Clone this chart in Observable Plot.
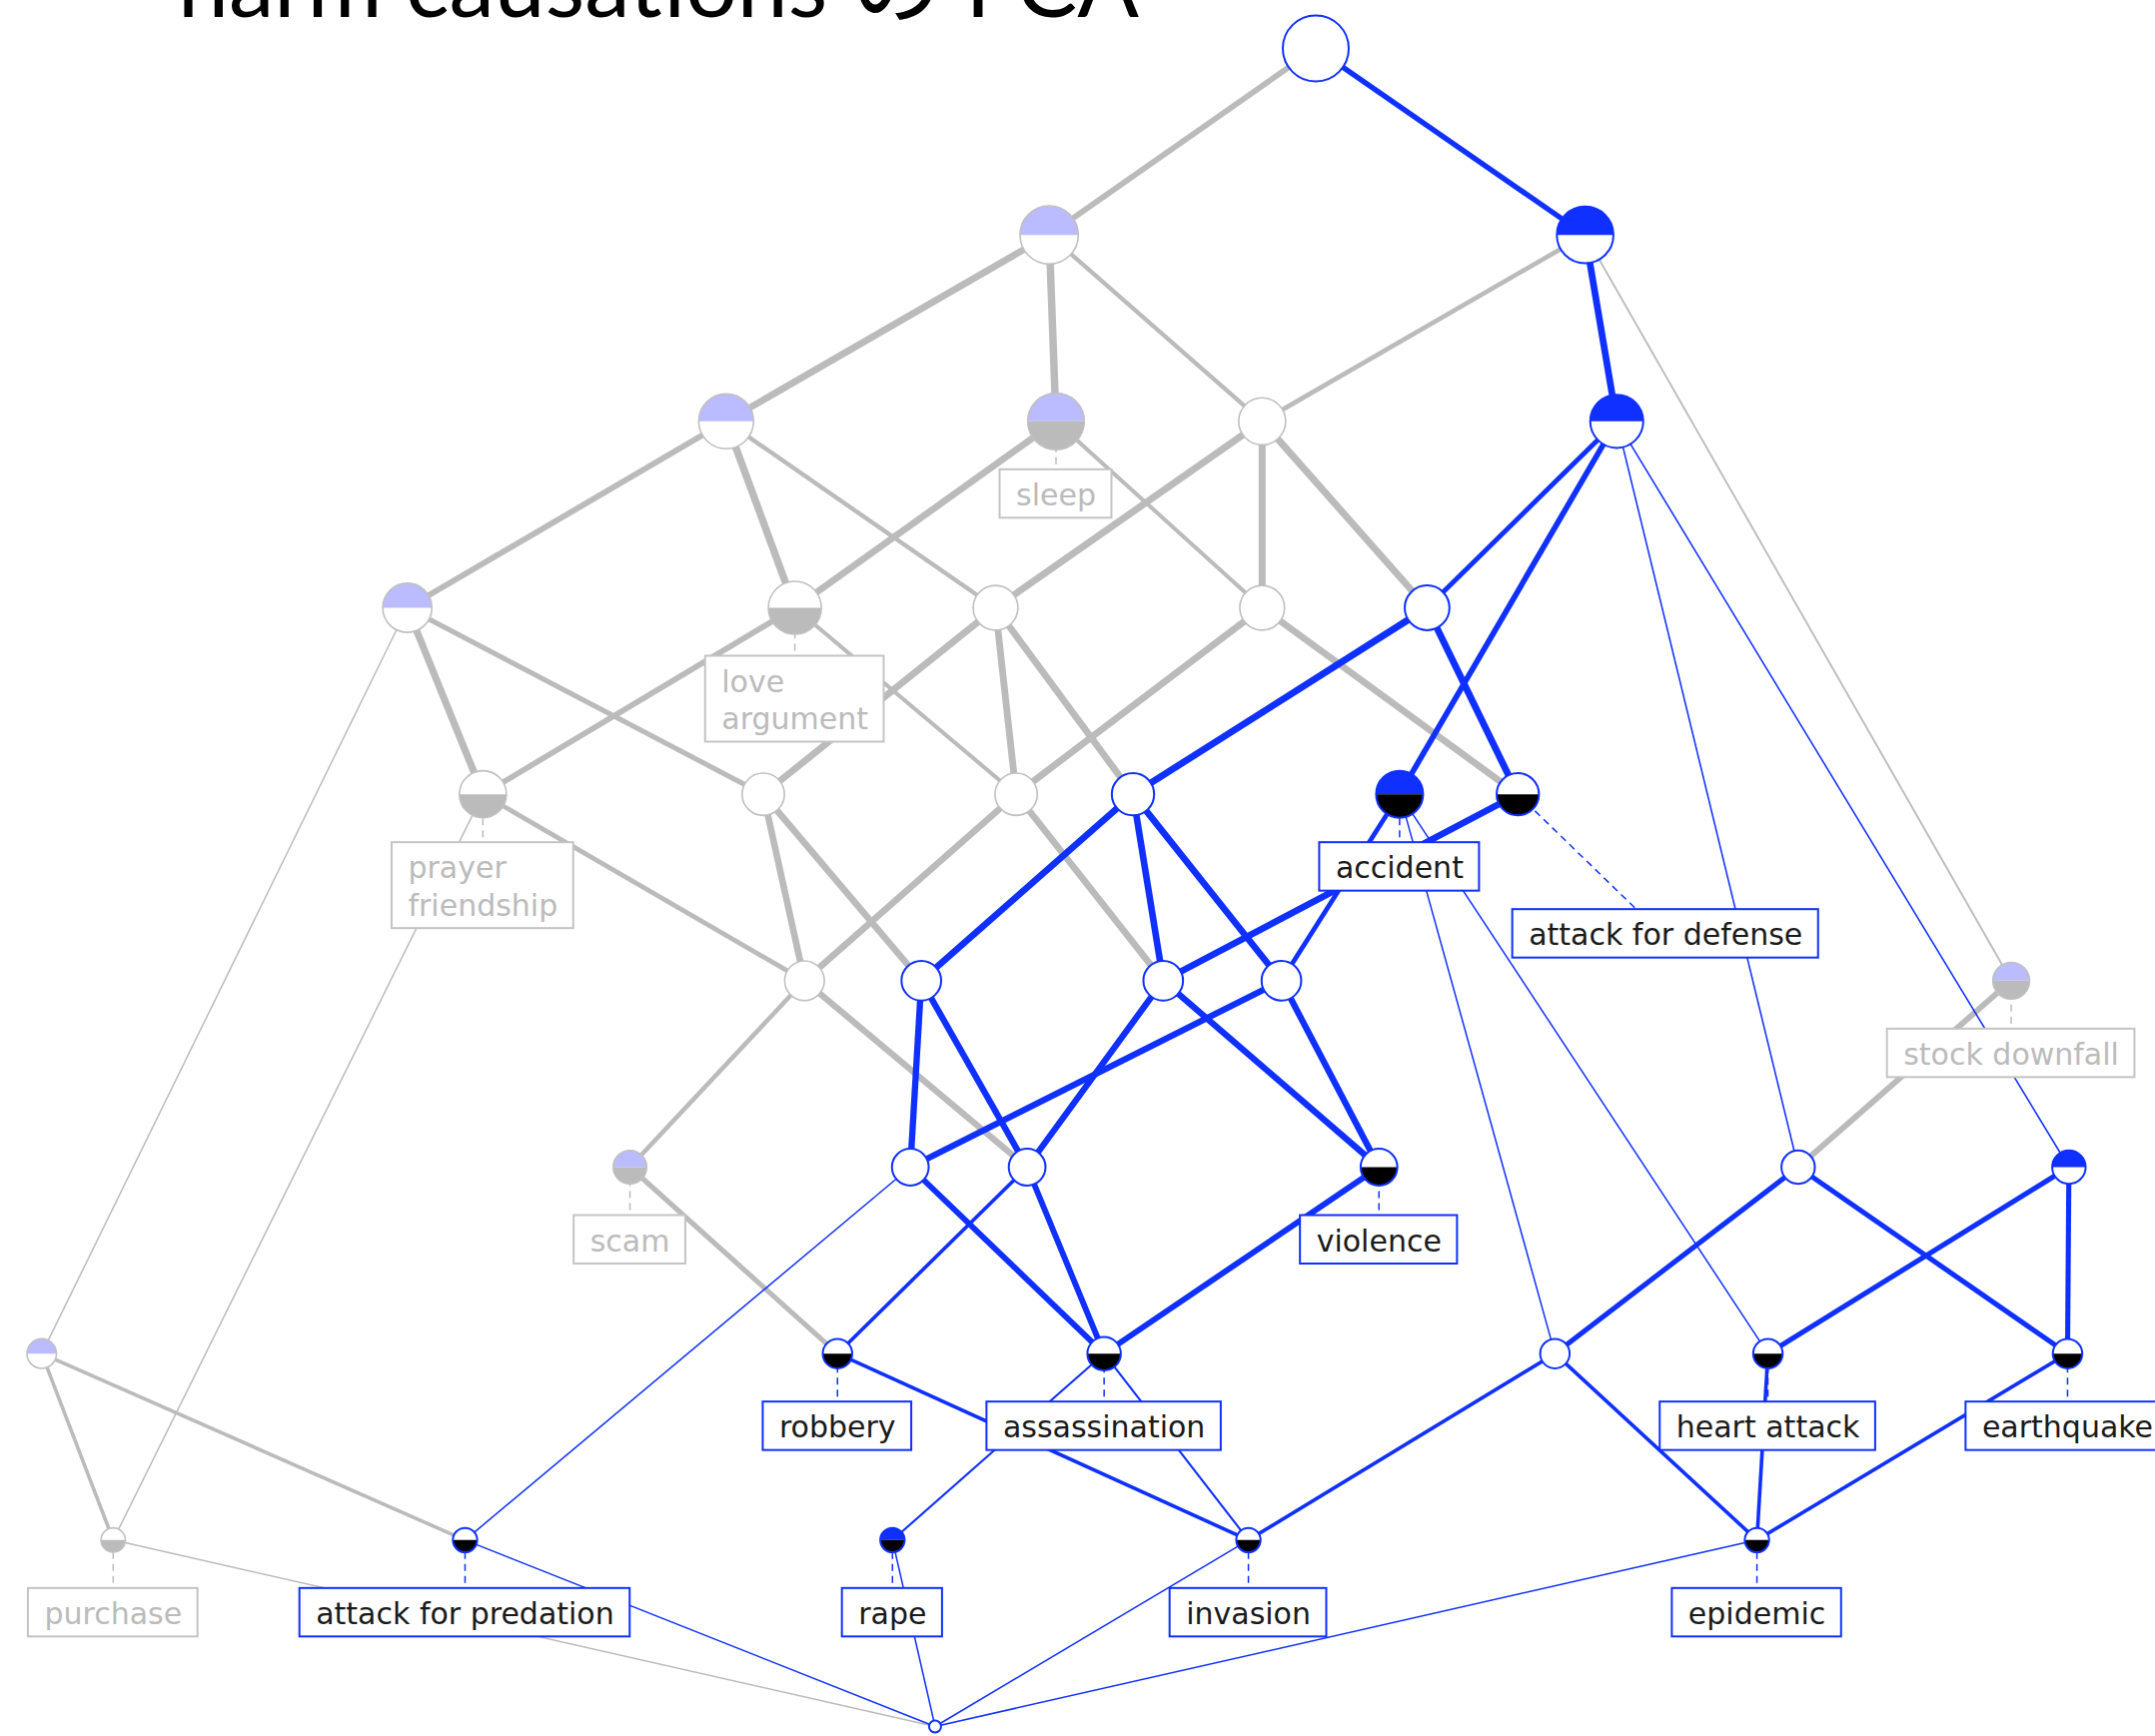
<!DOCTYPE html>
<html>
<head>
<meta charset="utf-8">
<script src="https://cdn.jsdelivr.net/npm/d3@7"></script>
<script src="https://cdn.jsdelivr.net/npm/@observablehq/plot@0.6"></script>
<style>
  html, body { margin: 0; padding: 0; background: #fff; overflow: hidden; }
  #chart { width: 2157px; height: 1738px; }
</style>
</head>
<body>
<div id="chart"></div>
<script>
// ---------------- data ----------------
const title = "harm causations の FCA";

// concept nodes: horizontal layout position and lattice level (0 = top)
const nodeX = [957, 763, 1153, 528, 768, 918, 1176, 296, 578, 724, 918, 1038, 351, 555, 739, 824, 1018, 1104,
  585, 670, 846, 932, 1463, 458, 662, 747, 1003, 1308, 1505, 30, 609, 803, 1131, 1286, 1504, 82, 338, 649, 908, 1278, 680];
const nodeLevel = [0, 1, 1, 2, 2, 2, 2, 3, 3, 3, 3, 3, 4, 4, 4, 4, 4, 4,
  5, 5, 5, 5, 5, 6, 6, 6, 6, 6, 6, 7, 7, 7, 7, 7, 7, 8, 8, 8, 8, 8, 9];

// covering relation: [upper concept, lower concept]
const edges = [
  [0,1],[0,2],
  [1,3],[1,4],[1,5],
  [2,5],[2,6],[2,22],
  [3,7],[3,8],[3,9],
  [4,8],[4,10],
  [5,9],[5,10],[5,11],
  [6,11],[6,16],[6,27],[6,28],
  [7,12],[7,13],[7,29],
  [8,12],[8,14],
  [9,13],[9,14],[9,15],
  [10,14],[10,17],
  [11,15],[11,17],
  [12,18],[12,35],
  [13,18],[13,19],
  [14,18],[14,20],
  [15,19],[15,20],[15,21],
  [16,21],[16,32],[16,33],
  [17,20],
  [18,23],[18,25],
  [19,24],[19,25],
  [20,25],[20,26],
  [21,24],[21,26],
  [22,27],
  [23,30],
  [24,31],[24,36],
  [25,30],[25,31],
  [26,31],
  [27,32],[27,34],
  [28,33],[28,34],
  [29,35],[29,36],
  [30,38],
  [31,37],[31,38],
  [32,38],[32,39],
  [33,39],
  [34,39],
  [35,40],[36,40],[37,40],[38,40],[39,40]
];

// object concepts and their object labels
const objectNodes = [4, 8, 12, 16, 17, 22, 23, 26, 30, 31, 33, 34, 35, 36, 37, 38, 39];
const objectNames = ["sleep", "love\nargument", "prayer\nfriendship", "accident", "attack for defense",
  "stock downfall", "scam", "violence", "robbery", "assassination", "heart attack", "earthquake",
  "purchase", "attack for predation", "rape", "invasion", "epidemic"];

// attribute concepts (upper half filled)
const attributeNodes = [1, 2, 3, 4, 6, 7, 16, 22, 23, 28, 29, 37];

// highlighted concept (its filter and ideal are drawn in blue)
const selectedNode = 6;

// ---------------- styling / layout constants ----------------
const W = 2157, H = 1738;
const BLUE = "#1030ff", GRAY = "#bbbbbb", LAVENDER = "#bbbbff";
const kx = W / 1568;
const Y0 = 48, Y9 = 1728, rowPx = (Y9 - Y0) / 9;
const GAP = 48.5, PAD = 16, LINE = 37.5, FONT = 30;
const LABEL_SHIFT = {17: {dx: 148, dy: 67, cdx: 119}};

// ---------------- derived structure ----------------
const n = nodeX.length;
const children = Array.from({length: n}, () => []);
const parents = Array.from({length: n}, () => []);
for (const [u, l] of edges) { children[u].push(l); parents[l].push(u); }
const own = Array.from({length: n}, () => []);
objectNodes.forEach((k, i) => own[k].push(...objectNames[i].split("\n")));
const extSets = new Array(n);
function extOf(k) {
  if (extSets[k]) return extSets[k];
  const s = new Set(own[k]);
  for (const c of children[k]) for (const o of extOf(c)) s.add(o);
  return (extSets[k] = s);
}
const extent = d3.range(n).map(k => extOf(k).size);

function reach(start, adj) {
  const seen = new Set([start]), stack = [start];
  while (stack.length) {
    const k = stack.pop();
    for (const c of adj[k]) if (!seen.has(c)) { seen.add(c); stack.push(c); }
  }
  return seen;
}
const downSet = reach(selectedNode, children), upSet = reach(selectedNode, parents);
const isBlue = k => downSet.has(k) || upSet.has(k);

const attrSet = new Set(attributeNodes), objSet = new Set(objectNodes);
const nodes = d3.range(n).map(k => ({
  k, x: nodeX[k], y: nodeLevel[k], ext: extent[k], blue: isBlue(k), attr: attrSet.has(k), obj: objSet.has(k)
}));

const links = edges.map(([u, l]) => {
  const ratio = extent[u] ? extent[l] / extent[u] : 0;
  return {
    x1: nodeX[u], y1: nodeLevel[u], x2: nodeX[l], y2: nodeLevel[l],
    blue: isBlue(u) && isBlue(l), w: Math.max(1.5, 9 * ratio - 0.9)
  };
}).sort((a, b) => a.blue - b.blue);

const ctx = document.createElement("canvas").getContext("2d");
ctx.font = `${FONT}px 'DejaVu Sans'`;
const labels = objectNodes.map((k, i) => {
  const lines = objectNames[i].split("\n");
  const w = d3.max(lines, s => ctx.measureText(s).width) + 2 * PAD;
  const h = LINE * lines.length + 11;
  const s = LABEL_SHIFT[k] || {dx: 0, dy: 0, cdx: 0};
  const cx = nodeX[k] + s.dx / kx;
  const top = nodeLevel[k] + (GAP + s.dy) / rowPx;
  return {
    k, lines, blue: isBlue(k),
    x1: cx - w / 2 / kx, x2: cx + w / 2 / kx, y1: top, y2: top + h / rowPx,
    cx1: nodeX[k], cy1: nodeLevel[k], cx2: nodeX[k] + s.cdx / kx, cy2: top
  };
});
const labelLines = labels.flatMap(L => L.lines.map((t, i) => ({
  text: t, blue: L.blue, x: L.x1 + PAD / kx, y: L.y1 + (26 + i * LINE) / rowPx
})));

const topHalf = {draw(c, size) { const r = Math.sqrt(size / Math.PI); c.moveTo(r, 0); c.arc(0, 0, r, 0, Math.PI, true); c.closePath(); }};
const bottomHalf = {draw(c, size) { const r = Math.sqrt(size / Math.PI); c.moveTo(r, 0); c.arc(0, 0, r, 0, Math.PI, false); c.closePath(); }};

const chart = Plot.plot({
  width: W, height: H, margin: 0,
  x: {domain: [0, 1568], range: [0, W], axis: null},
  y: {domain: [0, 9], range: [Y0, Y9], axis: null},
  r: {type: "sqrt", domain: [0, d3.max(extent)], range: [6, 33]},
  color: {type: "identity"},
  style: {fontFamily: "DejaVu Sans", background: "white", overflow: "hidden"},
  marks: [
    Plot.link(links, {x1: "x1", y1: "y1", x2: "x2", y2: "y2", stroke: d => d.blue ? BLUE : GRAY, strokeWidth: "w"}),
    Plot.link(labels, {x1: "cx1", y1: "cy1", x2: "cx2", y2: "cy2", stroke: d => d.blue ? BLUE : GRAY, strokeWidth: 1.5, strokeDasharray: "7,5"}),
    Plot.dot(nodes, {x: "x", y: "y", r: "ext", fill: "white", stroke: "none"}),
    Plot.dot(nodes.filter(d => d.attr), {x: "x", y: "y", r: "ext", symbol: topHalf, fill: d => d.blue ? BLUE : LAVENDER, stroke: "none"}),
    Plot.dot(nodes.filter(d => d.obj), {x: "x", y: "y", r: "ext", symbol: bottomHalf, fill: d => d.blue ? "#000000" : GRAY, stroke: "none"}),
    Plot.dot(nodes, {x: "x", y: "y", r: "ext", fill: "none", stroke: d => d.blue ? BLUE : "#c0c0c0", strokeWidth: d => d.blue ? 2 : 1.6}),
    Plot.rect(labels, {x1: "x1", x2: "x2", y1: "y1", y2: "y2", fill: "white", stroke: d => d.blue ? BLUE : "#c4c4c4", strokeWidth: 2}),
    Plot.text(labelLines, {x: "x", y: "y", text: "text", textAnchor: "start", fontSize: FONT, fontFamily: "DejaVu Sans", fill: d => d.blue ? "#1a1a1a" : "#bbbbbb"})
  ]
});

d3.select(chart).append("text")
  .attr("x", 178).attr("y", 17)
  .attr("text-anchor", "start")
  .attr("font-family", "Lato, 'Noto Sans CJK JP', sans-serif")
  .attr("font-size", 92)
  .attr("fill", "#000")
  .attr("textLength", 962)
  .attr("lengthAdjust", "spacingAndGlyphs")
  .text(title);

document.getElementById("chart").appendChild(chart);
</script>
</body>
</html>
